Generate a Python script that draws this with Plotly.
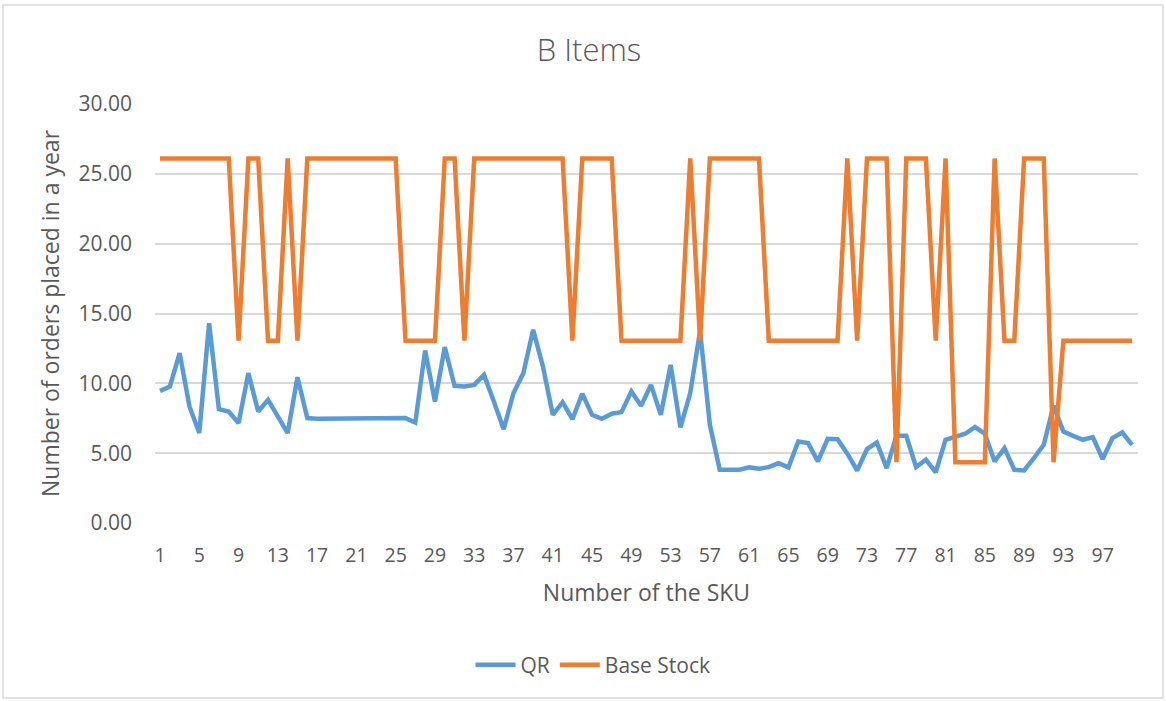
import plotly.graph_objects as go

# SKU numbers along the x axis
sku = list(range(1, 101))

# Orders per year under the QR policy
qr = [
    9.46, 9.77, 12.16, 8.34, 6.44, 14.30, 8.15, 7.98, 7.15, 10.73,
    7.98, 8.82, 7.63, 6.44, 10.44, 7.51, 7.46, 7.46, 7.46, 7.46,
    7.46, 7.46, 7.46, 7.46, 7.51, 7.51, 7.20, 12.35, 8.70, 12.59,
    9.82, 9.77, 9.89, 10.60, 8.70, 6.72, 9.30, 10.73, 13.83, 11.20,
    7.75, 8.65, 7.44, 9.25, 7.75, 7.46, 7.82, 7.94, 9.41, 8.39,
    9.89, 7.75, 11.32, 6.84, 9.30, 13.75, 7.03, 3.81, 3.81, 3.81,
    3.98, 3.88, 4.00, 4.29, 3.98, 5.84, 5.72, 4.41, 6.03, 6.00,
    4.96, 3.76, 5.29, 5.77, 3.93, 6.24, 6.24, 4.00, 4.53, 3.62,
    5.96, 6.15, 6.39, 6.87, 6.39, 4.41, 5.36, 3.81, 3.76, 4.65,
    5.60, 8.40, 6.55, 6.24, 5.96, 6.15, 4.58, 6.08, 6.48, 5.60,
]

# Orders per year under the base stock policy
T, M, L = 26.10, 13.05, 4.35
base_stock = (
    [T] * 8 + [M] + [T] * 2 + [M] * 2 + [T] + [M] + [T] * 10
    + [M] * 4 + [T] * 2 + [M] + [T] * 10 + [M] + [T] * 4
    + [M] * 7 + [T] + [M] + [T] * 6 + [M] * 8 + [T] + [M]
    + [T] * 3 + [L] + [T] * 3 + [M] + [T] + [L] * 4 + [T]
    + [M] * 2 + [T] * 3 + [L] + [M] * 8
)

x_ticks = list(range(1, 101, 4))
y_ticks = [0, 5, 10, 15, 20, 25, 30]

TEXT = "#595959"
GRID = "#D9D9D9"
FONT = "Open Sans"

fig = go.Figure()
fig.add_trace(go.Scatter(
    x=sku, y=qr, mode="lines", name="QR",
    line=dict(color="#5B9BD5", width=4.5, shape="linear"),
))
fig.add_trace(go.Scatter(
    x=sku, y=base_stock, mode="lines", name="Base Stock",
    line=dict(color="#ED7D31", width=4.5, shape="linear"),
))

# plot area geometry (pixels)
W, H = 1166, 701
L_M, R_M, T_M, B_M = 155, 28, 104, 178
pw = W - L_M - R_M
ph = H - T_M - B_M


def px_x(p):
    return (p - L_M) / pw


def px_y(p):
    return (H - B_M - p) / ph


fig.update_layout(
    width=W, height=H,
    margin=dict(l=L_M, r=R_M, t=T_M, b=B_M),
    paper_bgcolor="white", plot_bgcolor="white",
    font=dict(family=FONT, color=TEXT, size=19),
    title=dict(
        text="B Items", x=px_x(589), y=1 - 50 / H, xref="paper",
        xanchor="center", yanchor="middle",
        font=dict(size=31, color=TEXT, family=FONT, weight=300),
    ),
    showlegend=True,
    legend=dict(
        orientation="h", x=px_x(593), xanchor="center",
        y=px_y(665), yanchor="middle",
        font=dict(size=21, color=TEXT), bgcolor="rgba(0,0,0,0)",
        itemwidth=40,
    ),
    xaxis=dict(
        range=[0.49, 100.6], tickmode="array", tickvals=x_ticks,
        ticktext=[str(v) for v in x_ticks],
        tickfont=dict(size=19.5),
        showgrid=False, zeroline=False, showline=False, ticks="",
        ticklabelstandoff=18,
        title=dict(text="Number of the SKU", font=dict(size=23, color=TEXT),
                   standoff=18),
    ),
    yaxis=dict(
        range=[0, 30], tickmode="array", tickvals=y_ticks,
        ticktext=[f"{v:.2f}" for v in y_ticks],
        tickfont=dict(size=21),
        showgrid=True, gridcolor=GRID, gridwidth=1.5,
        zeroline=False, showline=False, ticks="",
        ticklabelstandoff=22,
        title=dict(text="Number of orders placed in a year",
                   font=dict(size=23, color=TEXT), standoff=12),
    ),
    shapes=[dict(
        type="rect", xref="paper", yref="paper",
        x0=px_x(3), x1=px_x(1163), y0=px_y(698), y1=px_y(5),
        line=dict(color=GRID, width=1.5), fillcolor="rgba(0,0,0,0)",
        layer="below",
    )],
)

fig.write_html("out.html")
